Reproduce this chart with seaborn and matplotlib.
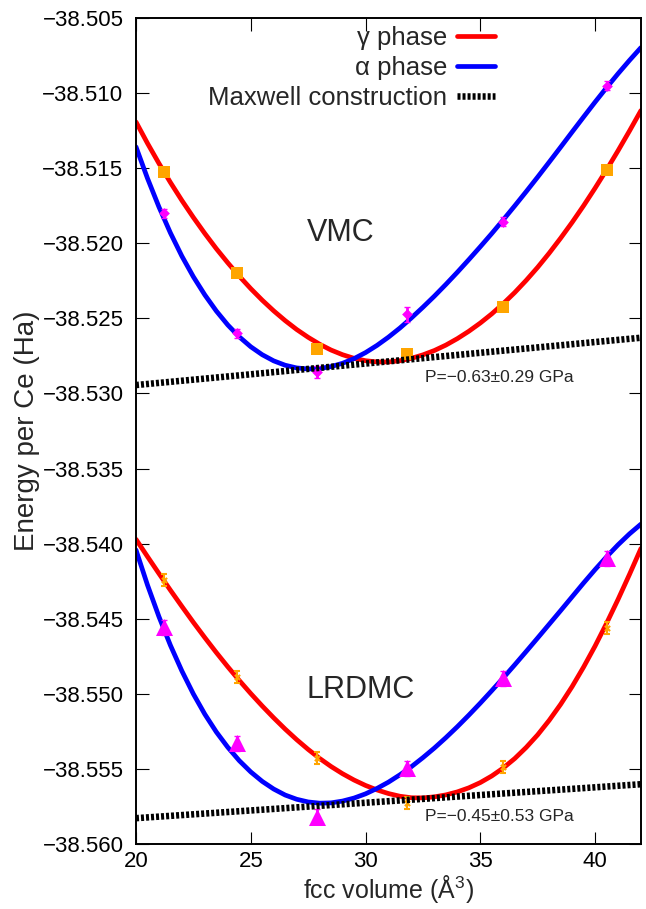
import matplotlib
matplotlib.use("Agg")
import matplotlib.pyplot as plt
import seaborn as sns
from matplotlib.ticker import FuncFormatter

# fitted equation-of-state curves (fcc volume in A^3, energy in Ha)
vol_fit = [20, 20.5, 21, 21.5, 22, 22.5, 23, 23.5, 24, 24.5, 25, 25.5, 26, 26.5, 27, 27.5,
           28, 28.5, 29, 29.5, 30, 30.5, 31, 31.5, 32, 32.5, 33, 33.5, 34, 34.5, 35, 35.5,
           36, 36.5, 37, 37.5, 38, 38.5, 39, 39.5, 40, 40.5, 41, 41.5, 42]
vmc_gamma_fit = [-38.51192, -38.51334, -38.51468, -38.51595, -38.51715, -38.51828, -38.51935, -38.52036,
                 -38.52130, -38.52219, -38.52302, -38.52379, -38.52450, -38.52515, -38.52574, -38.52626,
                 -38.52672, -38.52711, -38.52742, -38.52766, -38.52782, -38.52790, -38.52790, -38.52782,
                 -38.52766, -38.52743, -38.52714, -38.52678, -38.52635, -38.52586, -38.52531, -38.52470,
                 -38.52402, -38.52328, -38.52247, -38.52160, -38.52066, -38.51966, -38.51861, -38.51750,
                 -38.51633, -38.51511, -38.51384, -38.51252, -38.51116]
vmc_alpha_fit = [-38.51358, -38.51567, -38.51758, -38.51931, -38.52086, -38.52223, -38.52344, -38.52451,
                 -38.52544, -38.52623, -38.52689, -38.52742, -38.52783, -38.52812, -38.52830, -38.52837,
                 -38.52834, -38.52821, -38.52799, -38.52768, -38.52728, -38.52680, -38.52625, -38.52564,
                 -38.52497, -38.52426, -38.52352, -38.52274, -38.52193, -38.52109, -38.52023, -38.51935,
                 -38.51844, -38.51751, -38.51656, -38.51559, -38.51460, -38.51360, -38.51259, -38.51159,
                 -38.51060, -38.50964, -38.50871, -38.50782, -38.50697]
lrdmc_gamma_fit = [-38.53971, -38.54086, -38.54199, -38.54310, -38.54418, -38.54524, -38.54626, -38.54725,
                   -38.54820, -38.54911, -38.54998, -38.55081, -38.55160, -38.55235, -38.55305, -38.55370,
                   -38.55430, -38.55484, -38.55532, -38.55574, -38.55610, -38.55640, -38.55664, -38.55682,
                   -38.55692, -38.55693, -38.55686, -38.55673, -38.55653, -38.55626, -38.55591, -38.55547,
                   -38.55494, -38.55431, -38.55357, -38.55273, -38.55177, -38.55070, -38.54952, -38.54822,
                   -38.54682, -38.54531, -38.54372, -38.54205, -38.54032]
lrdmc_alpha_fit = [-38.54042, -38.54275, -38.54486, -38.54677, -38.54848, -38.55001, -38.55136, -38.55254,
                   -38.55356, -38.55445, -38.55520, -38.55583, -38.55634, -38.55674, -38.55702, -38.55720,
                   -38.55728, -38.55726, -38.55714, -38.55694, -38.55666, -38.55630, -38.55588, -38.55539,
                   -38.55485, -38.55425, -38.55361, -38.55292, -38.55219, -38.55142, -38.55062, -38.54979,
                   -38.54894, -38.54807, -38.54718, -38.54628, -38.54537, -38.54446, -38.54354, -38.54262,
                   -38.54173, -38.54088, -38.54008, -38.53935, -38.53870]

# computed points with error bars
vol_pts = [21.2, 24.4, 27.9, 31.8, 36.0, 40.5]
vmc_gamma_pts = [-38.51523, -38.52196, -38.52704, -38.52737, -38.52427, -38.51512]
vmc_gamma_err = [0.0002, 0.0002, 0.0002, 0.0002, 0.0002, 0.0002]
vmc_alpha_pts = [-38.51800, -38.52599, -38.52855, -38.52473, -38.51856, -38.50951]
vmc_alpha_err = [0.0003, 0.0003, 0.0004, 0.0005, 0.0003, 0.0003]
lrdmc_gamma_pts = [-38.54242, -38.54889, -38.55429, -38.55724, -38.55485, -38.54563]
lrdmc_gamma_err = [0.0004, 0.0004, 0.0004, 0.0004, 0.0004, 0.0004]
lrdmc_alpha_pts = [-38.54557, -38.55329, -38.55818, -38.55495, -38.54896, -38.54097]
lrdmc_alpha_err = [0.0005, 0.0005, 0.0005, 0.0005, 0.0005, 0.0005]

# common tangent lines
maxwell_vol = [20, 42]
vmc_maxwell = [-38.52944, -38.52629]
lrdmc_maxwell = [-38.55828, -38.55602]

x_ticks = [20, 25, 30, 35, 40]
y_ticks = [-38.560, -38.555, -38.550, -38.545, -38.540, -38.535, -38.530,
           -38.525, -38.520, -38.515, -38.510, -38.505]

sns.set_style("ticks")
plt.rcParams['font.family'] = ['Liberation Sans', 'DejaVu Sans']
plt.rcParams['mathtext.default'] = 'regular'

fig = plt.figure(figsize=(6.46, 9.09), dpi=100)
ax = fig.add_axes([0.2105, 0.0715, 0.7817, 0.9087])

red, blue = "#ff0000", "#0000ff"
orange, magenta = "#ffa500", "#ff00ff"
dots = (0, (0.46, 0.31))

sns.lineplot(x=vol_fit, y=vmc_gamma_fit, color=red, lw=3.4, ax=ax, zorder=2)
h_gamma = ax.lines[-1]
sns.lineplot(x=vol_fit, y=vmc_alpha_fit, color=blue, lw=3.4, ax=ax, zorder=2)
h_alpha = ax.lines[-1]
sns.lineplot(x=vol_fit, y=lrdmc_gamma_fit, color=red, lw=3.4, ax=ax, zorder=2)
sns.lineplot(x=vol_fit, y=lrdmc_alpha_fit, color=blue, lw=3.4, ax=ax, zorder=2)

sns.lineplot(x=maxwell_vol, y=vmc_maxwell, color="black", lw=4.7, linestyle=dots, ax=ax, zorder=5)
h_max = ax.lines[-1]
sns.lineplot(x=maxwell_vol, y=lrdmc_maxwell, color="black", lw=4.7, linestyle=dots, ax=ax, zorder=5)

# error bars, then markers on top
ax.errorbar(vol_pts, vmc_gamma_pts, yerr=vmc_gamma_err, fmt='none', ecolor=orange, elinewidth=1.5, zorder=3)
ax.errorbar(vol_pts, vmc_alpha_pts, yerr=vmc_alpha_err, fmt='none', ecolor=magenta, elinewidth=2,
            capsize=2, zorder=3)
ax.errorbar(vol_pts, lrdmc_gamma_pts, yerr=lrdmc_gamma_err, fmt='none', ecolor=orange, elinewidth=1.5,
            capsize=2.5, capthick=1.5, zorder=3)
ax.errorbar(vol_pts, lrdmc_alpha_pts, yerr=lrdmc_alpha_err, fmt='none', ecolor=magenta, elinewidth=2,
            capsize=2, zorder=3)

sns.scatterplot(x=vol_pts, y=vmc_gamma_pts, marker='s', s=64, color=orange, linewidth=0, ax=ax, zorder=4)
sns.scatterplot(x=vol_pts, y=vmc_alpha_pts, marker='D', s=30, color=magenta, linewidth=0, ax=ax, zorder=4)
sns.scatterplot(x=vol_pts, y=lrdmc_gamma_pts, marker='x', s=14, color=orange, linewidth=1.5, ax=ax, zorder=4)
sns.scatterplot(x=vol_pts, y=lrdmc_alpha_pts, marker='^', s=150, color=magenta, linewidth=0, ax=ax, zorder=4)

ax.text(27.44, -38.51985, "VMC", fontsize=22)
ax.text(27.44, -38.55029, "LRDMC", fontsize=22)
ax.text(32.57, -38.52921, "P=\u22120.63\u00b10.29 GPa", fontsize=12.5)
ax.text(32.57, -38.55844, "P=\u22120.45\u00b10.53 GPa", fontsize=12.5)

ax.set_xlim(20, 42)
ax.set_ylim(-38.560, -38.505)
ax.set_xticks(x_ticks)
ax.set_yticks(y_ticks)
ax.yaxis.set_major_formatter(FuncFormatter(lambda v, p: f"{v:.3f}".replace("-", "\u2212")))
ax.tick_params(direction='in', length=9, width=0.8, top=True, right=True, labelsize=16, colors='black')
ax.tick_params(axis='y', pad=9)
ax.tick_params(axis='x', pad=5)
for sp in ax.spines.values():
    sp.set_linewidth(1.4)
    sp.set_color('black')

ax.set_xlabel("fcc volume (Å$^3$)", fontsize=18, labelpad=1)
ax.set_ylabel("Energy per Ce (Ha)", fontsize=20, labelpad=2)

ax.legend(handles=[h_gamma, h_alpha, h_max], labels=["\u03b3 phase", "\u03b1 phase", "Maxwell construction"],
          loc="upper right", bbox_to_anchor=(0.711, 0.99), frameon=False, markerfirst=False,
          fontsize=18.5, handlelength=1.48, handletextpad=0.39, labelspacing=0.23,
          borderpad=0, borderaxespad=0)

fig.savefig("out.png", dpi=100)
